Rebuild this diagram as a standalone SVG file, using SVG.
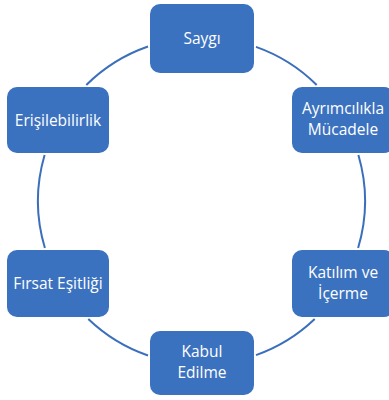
<svg xmlns="http://www.w3.org/2000/svg" width="389" height="400" viewBox="0 0 389 400">
<style>
.box{fill:#3b72c0;}
.lbl{font-family:"Open Sans","Liberation Sans",sans-serif;font-size:15.5px;fill:#ffffff;text-anchor:middle;}
.arc{fill:none;stroke:#3b6fbc;stroke-width:2;}
</style>
<rect width="389" height="400" fill="#ffffff"/>
<g id="connectors">
<path class="arc" d="M256,46.9 A163.5,163.5 0 0 1 316.7,85"/>
<path class="arc" d="M358.4,155 A163.5,163.5 0 0 1 358.1,248"/>
<path class="arc" d="M314.7,319 A163.5,163.5 0 0 1 256,355.1"/>
<path class="arc" d="M148,355.5 A163.5,163.5 0 0 1 88.3,319"/>
<path class="arc" d="M44.9,248 A163.5,163.5 0 0 1 44.6,155"/>
<path class="arc" d="M86.3,85 A163.5,163.5 0 0 1 148,46.5"/>
</g>
<g id="node-saygi">
<rect class="box" x="150" y="4" width="104" height="69" rx="10"/>
<text class="lbl" x="202" y="44">Saygı</text>
</g>
<g id="node-ayrimcilikla">
<rect class="box" x="292" y="87" width="102" height="66" rx="10"/>
<text class="lbl" x="343" y="114">Ayrımcılıkla</text>
<text class="lbl" x="343" y="135">Mücadele</text>
</g>
<g id="node-katilim">
<rect class="box" x="292" y="250" width="102" height="67" rx="10"/>
<text class="lbl" x="343" y="277.5">Katılım ve</text>
<text class="lbl" x="343" y="298.5">İçerme</text>
</g>
<g id="node-kabul">
<rect class="box" x="150" y="331" width="104" height="64" rx="10"/>
<text class="lbl" x="202" y="357">Kabul</text>
<text class="lbl" x="202" y="378">Edilme</text>
</g>
<g id="node-firsat">
<rect class="box" x="7" y="250" width="102" height="67" rx="10"/>
<text class="lbl" x="58" y="289">Fırsat Eşitliği</text>
</g>
<g id="node-erisilebilirlik">
<rect class="box" x="7" y="87" width="102" height="66" rx="10"/>
<text class="lbl" x="58" y="125.5">Erişilebilirlik</text>
</g>
</svg>
